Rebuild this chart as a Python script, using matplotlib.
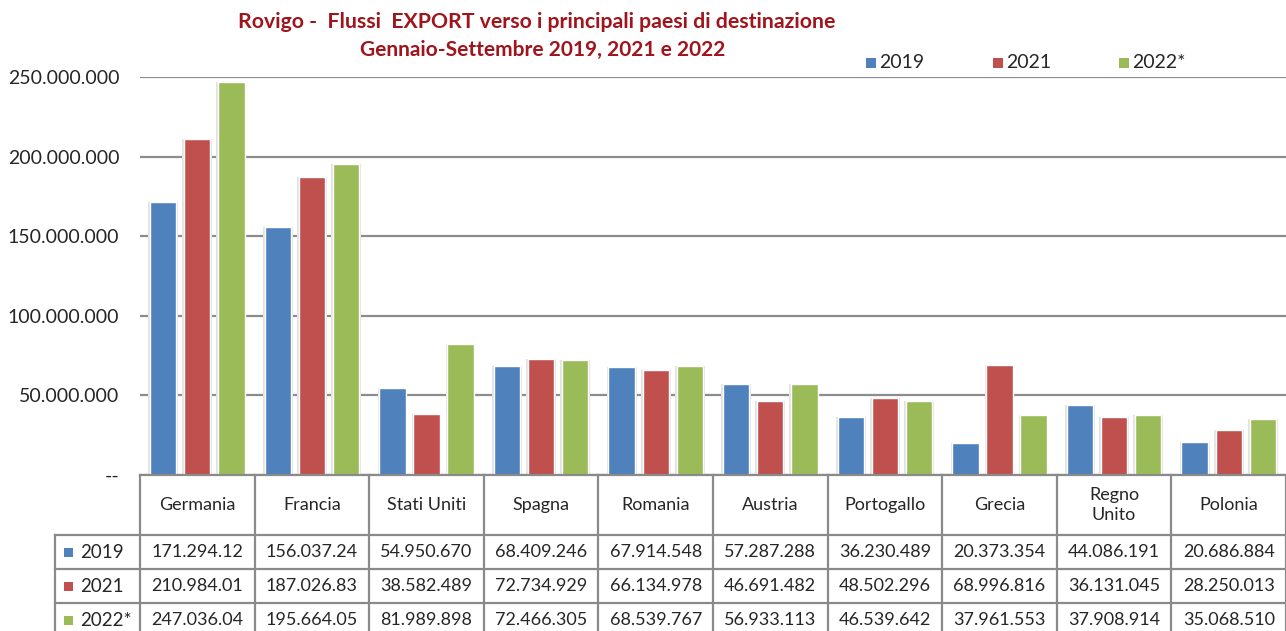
import matplotlib
matplotlib.use("Agg")
import matplotlib.pyplot as plt
from matplotlib.patches import Rectangle
from matplotlib.lines import Line2D
from matplotlib.ticker import FuncFormatter

plt.rcParams['font.family'] = ['Lato', 'DejaVu Sans']

categories = ["Germania", "Francia", "Stati Uniti", "Spagna", "Romania", "Austria",
              "Portogallo", "Grecia", "Regno\nUnito", "Polonia"]
series_names = ["2019", "2021", "2022*"]
v2019 = [171294120, 156037240, 54950670, 68409246, 67914548, 57287288, 36230489, 20373354, 44086191, 20686884]
v2021 = [210984010, 187026830, 38582489, 72734929, 66134978, 46691482, 48502296, 68996816, 36131045, 28250013]
v2022 = [247036040, 195664050, 81989898, 72466305, 68539767, 56933113, 46539642, 37961553, 37908914, 35068510]
yticks = [0, 50000000, 100000000, 150000000, 200000000, 250000000]
title_lines = ["Rovigo -  Flussi  EXPORT verso i principali paesi di destinazione",
               "Gennaio-Settembre 2019, 2021 e 2022"]

colors = ["#4F81BD", "#C0504D", "#9BBB59"]
title_color = "#A0141B"
grid_color = "#8C8C8C"
text_color = "#262626"

W, H = 1286, 631
fig = plt.figure(figsize=(W / 100, H / 100), dpi=100)

def fx(x):
    return x / W

def fy(y):
    return 1 - y / H

ax_left, ax_right, ax_top, ax_bot = 140, 1286, 77, 475
ax = fig.add_axes([fx(ax_left), fy(ax_bot), fx(ax_right - ax_left), (ax_bot - ax_top) / H])
ax.set_xlim(-0.5, len(categories) - 0.5)
ax.set_ylim(0, 250000000)

def fmt(v):
    return f"{v:,.0f}".replace(",", ".")

ax.yaxis.set_major_formatter(FuncFormatter(lambda v, p: "--" if v == 0 else fmt(v)))
ax.set_yticks(yticks)
ax.tick_params(axis='y', length=0, pad=15, labelsize=14, labelcolor=text_color)
ax.tick_params(axis='x', length=0, labelbottom=False)
for s in ax.spines.values():
    s.set_visible(False)
ax.set_axisbelow(True)
ax.grid(axis='y', color=grid_color, linewidth=1.6)

width = 0.23
offsets = [-0.297, 0.0, 0.297]
xs = list(range(len(categories)))
for vals, off, c in zip([v2019, v2021, v2022], offsets, colors):
    pos = [x + off for x in xs]
    ax.bar(pos, vals, width=width + 0.03, color="#E3E3E3", edgecolor="none", zorder=2)
    ax.bar(pos, vals, width=width, color=c, edgecolor="white", linewidth=1.0, zorder=3)

# title
fig.text(fx(537), fy(22), title_lines[0], ha='center', va='center', color=title_color,
         fontsize=15.3, fontweight='bold')
fig.text(fx(543), fy(50), title_lines[1], ha='center', va='center', color=title_color,
         fontsize=15, fontweight='bold')

# legend
leg_x = [866, 993, 1119]
for lx, name, c in zip(leg_x, series_names, colors):
    fig.patches.append(Rectangle((fx(lx), fy(68)), fx(10), 10 / H, transform=fig.transFigure,
                                 facecolor=c, edgecolor='none'))
    fig.text(fx(lx + 13), fy(63), name, ha='left', va='center', fontsize=14, color=text_color)

# data table
cat_w = (ax_right - ax_left) / len(categories)
line_kw = dict(color="#8A8A8A", linewidth=1.6, transform=fig.transFigure)
row_bounds = [475, 535, 569, 603, 637]
for i in range(len(categories) + 1):
    x = ax_left + i * cat_w
    fig.add_artist(Line2D([fx(x), fx(x)], [fy(475), fy(640)], **line_kw))
fig.add_artist(Line2D([fx(55), fx(55)], [fy(535), fy(640)], **line_kw))
fig.add_artist(Line2D([fx(ax_left), fx(W)], [fy(475), fy(475)], **line_kw))
for y in row_bounds[1:4]:
    fig.add_artist(Line2D([fx(55), fx(W)], [fy(y), fy(y)], **line_kw))

for i, cat in enumerate(categories):
    cx = ax_left + (i + 0.5) * cat_w
    fig.text(fx(cx), fy(505), cat, ha='center', va='center', fontsize=13, color=text_color,
             linespacing=1.35)

row_centers = [552, 586, 620]
for r, (vals, name, c) in enumerate(zip([v2019, v2021, v2022], series_names, colors)):
    cy = row_centers[r]
    fig.patches.append(Rectangle((fx(64), fy(cy + 5)), fx(9), 9 / H, transform=fig.transFigure,
                                 facecolor=c, edgecolor='none'))
    fig.text(fx(80), fy(cy), name, ha='left', va='center', fontsize=13.5, color=text_color)
    for i, v in enumerate(vals):
        cx = ax_left + (i + 0.5) * cat_w
        s = fmt(v)[:10]
        fig.text(fx(cx), fy(cy), s, ha='center', va='center', fontsize=13, color=text_color)

fig.savefig("out.png", dpi=100, facecolor="white")
